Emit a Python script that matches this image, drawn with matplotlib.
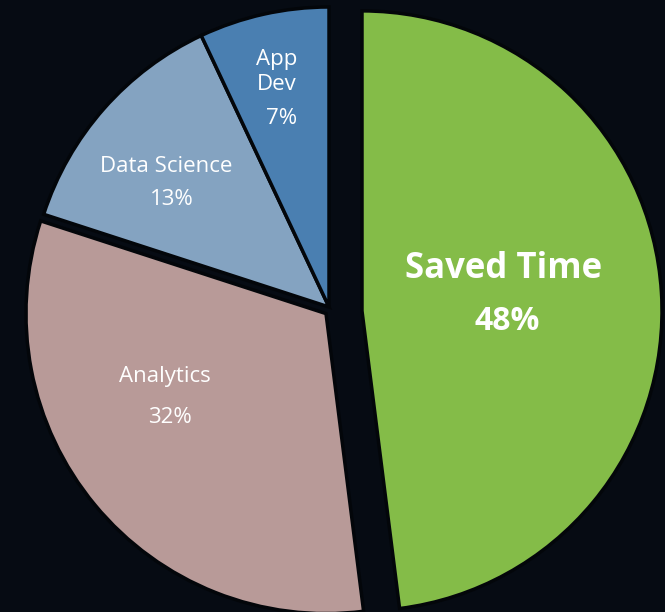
import numpy as np
import matplotlib.pyplot as plt

# pie data, clockwise from 12 o'clock
labels = ["Saved Time", "Analytics", "Data Science", "App Dev"]
shares = [48, 32, 13, 7]
pct_labels = ["48%", "32%", "13%", "7%"]

# styling
colors = ["#84BC48", "#B89A98", "#84A3C1", "#4A7FB1"]
explode = [0.11, 0.02, 0, 0]
# the two lower slices sit slightly lower than a plain explode would put them
slice_shift = {0: (0.11, -0.013), 1: (-0.01, -0.022)}
BG = "#060B13"

# text anchors in data units (pie radius = 1, centre at 0,0)
name_xy = [(0.583, 0.127), (-0.547, -0.233), (-0.543, 0.467), (-0.173, 0.783)]
pct_xy = [(0.593, -0.05), (-0.53, -0.367), (-0.523, 0.357), (-0.157, 0.63)]
name_sizes = [25, 16, 16, 16]
pct_sizes = [23, 16, 16, 16]
weights = ["bold", "normal", "normal", "normal"]

plt.rcParams['font.family'] = ['Open Sans', 'DejaVu Sans']

fig = plt.figure(figsize=(6.65, 6.12), dpi=100)
fig.patch.set_facecolor(BG)
ax = fig.add_axes([0, 0, 1, 1])
ax.set_facecolor(BG)

wedges, _ = ax.pie(shares, colors=colors, explode=explode, startangle=90,
                   counterclock=False, radius=1.0,
                   wedgeprops=dict(edgecolor="#03060A", linewidth=2.5))
for idx, c in slice_shift.items():
    wedges[idx].set_center(c)

for i in range(len(labels)):
    name = labels[i]
    if name == "App Dev":
        name = "App\nDev"
    ax.text(*name_xy[i], name, ha="center", va="center", color="white",
            fontsize=name_sizes[i], fontweight=weights[i], linespacing=1.3)
    ax.text(*pct_xy[i], pct_labels[i], ha="center", va="center", color="white",
            fontsize=pct_sizes[i], fontweight=weights[i])

# centre of the pie sits at pixel (329, 307), radius 300 px
ax.set_xlim(-329 / 300, (665 - 329) / 300)
ax.set_ylim(-(612 - 307) / 300, 307 / 300)
ax.set_aspect("equal")
ax.axis("off")

fig.savefig("out.png", dpi=100, facecolor=BG)
